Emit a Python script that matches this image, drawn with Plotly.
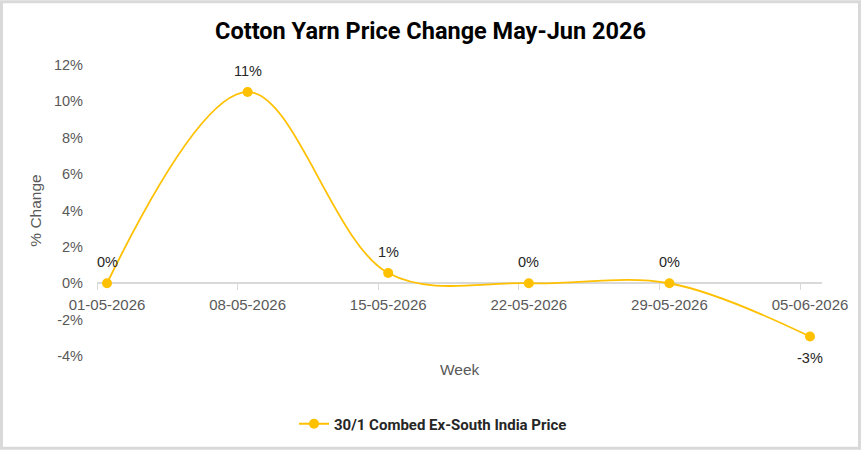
import plotly.graph_objects as go

weeks = ["01-05-2026", "08-05-2026", "15-05-2026", "22-05-2026", "29-05-2026", "05-06-2026"]
pct_change = [0.0, 0.1052, 0.0056, 0.0, 0.0, -0.0293]
label_above = [True, True, True, True, True, False]
y_ticks = [-0.04, -0.02, 0.0, 0.02, 0.04, 0.06, 0.08, 0.10, 0.12]
series_name = "30/1 Combed Ex-South India Price"

W, H = 861, 451
ML, MR, MT, MB = 97, 39, 65, 94
pw, ph = W - ML - MR, H - MT - MB

idx = list(range(len(weeks)))
px_per = (810 - 107) / (len(weeks) - 1)
xr = [-10 / px_per, len(weeks) - 1 + 12 / px_per]
tick_off = [i - 10 / px_per for i in idx]

yr = [y_ticks[0], y_ticks[-1]]
zero_frac = (0 - yr[0]) / (yr[1] - yr[0])
y_ticktext = [f"{v:.0%}" for v in y_ticks]

gold = "#FFC000"
gray = "#595959"

fig = go.Figure()
fig.add_trace(go.Scatter(
    x=idx, y=pct_change, name=f"<b>{series_name}</b>",
    mode="lines+markers",
    line=dict(color=gold, width=1.8, shape="spline", smoothing=1.0),
    marker=dict(color=gold, size=10),
))

for xi, v, up in zip(idx, pct_change, label_above):
    fig.add_annotation(x=xi, y=v, xref="x", yref="y", text=f"{v:.0%}",
                       showarrow=False, yshift=21 if up else -21,
                       font=dict(family="Liberation Sans", size=14.5, color="#262626"))

fig.update_layout(
    width=W, height=H,
    margin=dict(l=ML, r=MR, t=MT, b=MB),
    paper_bgcolor="white", plot_bgcolor="white",
    title=dict(text="<b>Cotton Yarn Price Change May-Jun 2026</b>",
               font=dict(family="Roboto", size=23.5, color="black"),
               x=0.5, xanchor="center", y=1 - 31 / H, yanchor="middle"),
    showlegend=True,
    legend=dict(orientation="h", x=(433 - ML) / pw, xanchor="center",
                y=(0 - (424 - (H - MB))) / ph, yanchor="middle",
                font=dict(family="Roboto", size=15, color="#262626"),
                itemwidth=30),
    xaxis=dict(range=xr, tickmode="array", tickvals=idx, ticktext=weeks,
               anchor="free", position=zero_frac, layer="below traces",
               showline=True, linecolor="#D9D9D9", linewidth=1.5,
               showgrid=False, zeroline=False,
               ticks="outside", ticklen=8, tickcolor="rgba(0,0,0,0)",
               tickfont=dict(family="Liberation Sans", size=15, color=gray),
               minor=dict(tickmode="array", tickvals=tick_off, ticks="outside",
                          ticklen=6, tickcolor="#D9D9D9", showgrid=False)),
    yaxis=dict(range=yr, tickmode="array", tickvals=y_ticks, ticktext=y_ticktext,
               showgrid=False, zeroline=False, showline=False,
               ticklabelstandoff=13,
               tickfont=dict(family="Liberation Sans", size=14.5, color=gray),
               title=dict(text="% Change", standoff=8,
                          font=dict(family="Liberation Sans", size=15.5, color=gray))),
)

fig.add_annotation(text="Week", xref="paper", yref="paper",
                   x=0.5, y=-(371 - (H - MB)) / ph,
                   xanchor="center", yanchor="middle", showarrow=False,
                   font=dict(family="Liberation Sans", size=15.5, color=gray))

fig.add_shape(type="rect", xref="paper", yref="paper",
              x0=(1.5 - ML) / pw, x1=(W - 1.5 - ML) / pw,
              y0=-(H - 1.5 - MT - ph) / ph, y1=1 + (MT - 1.5) / ph,
              line=dict(color="#D9D9D9", width=3), layer="below")

fig.write_html("out.html")
